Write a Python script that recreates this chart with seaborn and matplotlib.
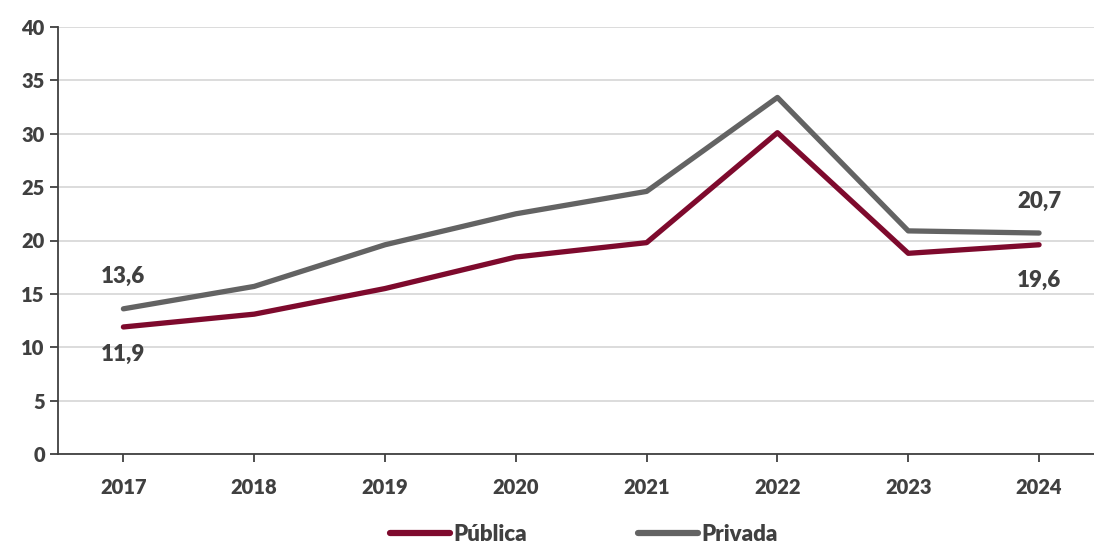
import pandas as pd
import matplotlib
matplotlib.use('Agg')
import matplotlib.pyplot as plt
import seaborn as sns

anos = ['2017', '2018', '2019', '2020', '2021', '2022', '2023', '2024']
publica = [11.9, 13.1, 15.5, 18.45, 19.8, 30.1, 18.8, 19.6]
privada = [13.6, 15.7, 19.6, 22.5, 24.6, 33.4, 20.9, 20.7]
series = ['Pública', 'Privada']
cores = ['#7E0A2D', '#636363']

dados = pd.DataFrame({
    'Ano': anos * 2,
    'Valor': publica + privada,
    'Rede': [series[0]] * len(anos) + [series[1]] * len(anos),
})

sns.set_style('white')
plt.rcParams['font.family'] = ['Lato', 'DejaVu Sans']
plt.rcParams['font.weight'] = 'heavy'

fig = plt.figure(figsize=(10.94, 5.47), dpi=100)
ax = fig.add_axes([58 / 1094, 1 - 454 / 547, 1 - 58 / 1094, (454 - 27) / 547])

sns.lineplot(data=dados, x='Ano', y='Valor', hue='Rede', palette=cores,
             linewidth=3.8, ax=ax, sort=False, solid_capstyle='round')

ax.set_ylim(0, 40)
ax.set_yticks(range(0, 41, 5))
ax.set_xlim(-0.5, 7.42)
ax.grid(axis='y', color='#d9d9d9', linewidth=1.3)
ax.set_axisbelow(True)
for s in ['top', 'right']:
    ax.spines[s].set_visible(False)
for s in ['left', 'bottom']:
    ax.spines[s].set_color('#404040')
    ax.spines[s].set_linewidth(1.3)
ax.tick_params(axis='both', colors='#404040', labelsize=14.5, length=6, width=1.3,
               direction='out', left=True, bottom=True)
ax.tick_params(axis='x', pad=11)
for lab in ax.get_xticklabels() + ax.get_yticklabels():
    lab.set_fontweight('heavy')
ax.set_xlabel('')
ax.set_ylabel('')

# rótulos das pontas
def fmt(v):
    return f'{v:.1f}'.replace('.', ',')

cor_txt = '#404040'
ax.annotate(fmt(privada[0]), (0, privada[0]), xytext=(0, 16), textcoords='offset points',
            ha='center', va='bottom', fontsize=16, fontweight='heavy', color=cor_txt)
ax.annotate(fmt(publica[0]), (0, publica[0]), xytext=(0, -12), textcoords='offset points',
            ha='center', va='top', fontsize=16, fontweight='heavy', color=cor_txt)
ax.annotate(fmt(privada[-1]), (7, privada[-1]), xytext=(0, 15), textcoords='offset points',
            ha='center', va='bottom', fontsize=16, fontweight='heavy', color=cor_txt)
ax.annotate(fmt(publica[-1]), (7, publica[-1]), xytext=(0, -18), textcoords='offset points',
            ha='center', va='top', fontsize=16, fontweight='heavy', color=cor_txt)

leg = ax.legend(loc='upper center', bbox_to_anchor=(0.508, -0.117), ncol=2, frameon=False,
                fontsize=16, handlelength=2.7, handletextpad=0.15, columnspacing=5.0)
for t in leg.get_texts():
    t.set_color(cor_txt)
    t.set_fontweight('heavy')
for h in leg.get_lines():
    h.set_linewidth(4.5)

plt.savefig('out.png', dpi=100)
